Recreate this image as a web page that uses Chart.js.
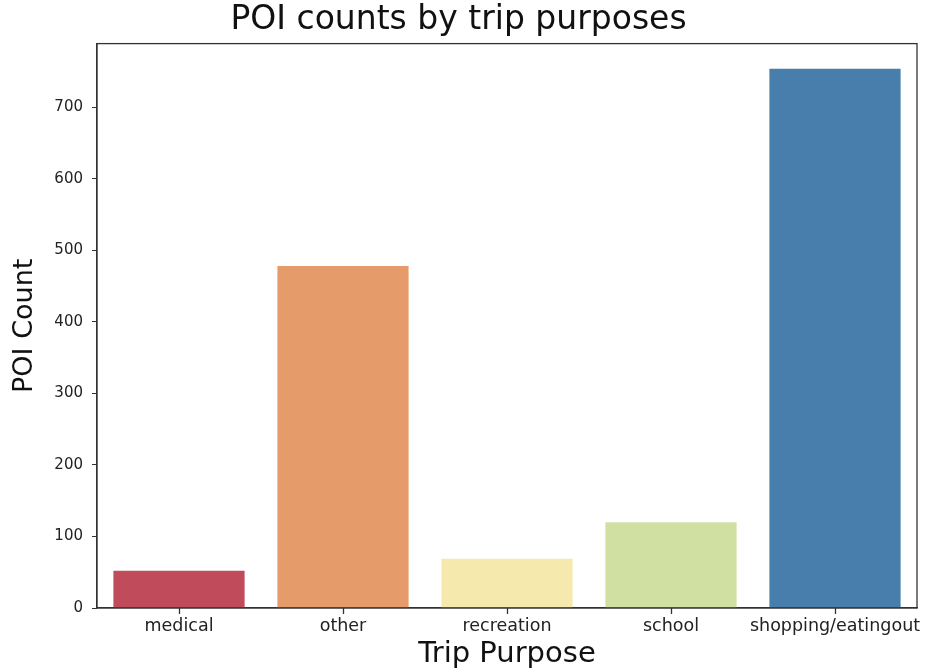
<!DOCTYPE html>
<html>
<head>
<meta charset="utf-8">
<script src="https://cdn.jsdelivr.net/npm/chart.js@4/dist/chart.umd.min.js"></script>
<style>
  html, body { margin: 0; padding: 0; background: #fff; }
  #wrap { width: 925px; height: 672px; }
</style>
</head>
<body>
<div id="wrap"><canvas id="chart" width="925" height="672"></canvas></div>
<script>
const purposes = ['medical', 'other', 'recreation', 'school', 'shopping/eatingout'];
const poiCounts = [52, 478, 69, 120, 754];
const barColors = ['#bf4b5b', '#e69b6a', '#f5e9ae', '#cfe0a2', '#477eab'];
const yTicks = [0, 100, 200, 300, 400, 500, 600, 700];

const FONT = "'DejaVu Sans', sans-serif";

// box around the plot area plus x tick marks at the category centres
const frame = {
  id: 'frame',
  afterDraw(chart) {
    const { ctx, chartArea: a } = chart;
    const x = chart.scales.x;
    ctx.save();
    ctx.strokeStyle = '#333';
    ctx.lineWidth = 1.3;
    ctx.strokeRect(a.left, a.top, a.right - a.left, a.bottom - a.top);
    ctx.beginPath();
    x.ticks.forEach((t, i) => {
      const px = Math.round(x.getPixelForTick(i)) + 0.5;
      ctx.moveTo(px, a.bottom);
      ctx.lineTo(px, a.bottom + 6);
    });
    ctx.stroke();
    ctx.restore();
  }
};

new Chart(document.getElementById('chart'), {
  type: 'bar',
  data: {
    labels: purposes,
    datasets: [{
      data: poiCounts,
      backgroundColor: barColors,
      borderWidth: 0,
      categoryPercentage: 1,
      barPercentage: 0.8
    }]
  },
  options: {
    responsive: false,
    animation: false,
    layout: { padding: { left: 0, right: 8, top: 0, bottom: 0 } },
    plugins: {
      legend: { display: false },
      tooltip: { enabled: false },
      title: {
        display: true,
        text: 'POI counts by trip purposes',
        color: '#111',
        font: { family: FONT, size: 33, weight: 'normal', lineHeight: 1.2 },
        padding: { top: 1, bottom: 3 }
      }
    },
    scales: {
      x: {
        grid: { display: true, drawOnChartArea: false, drawTicks: false, color: '#333' },
        border: { color: '#333', width: 1.2 },
        ticks: { color: '#222', font: { family: FONT, size: 17.5 }, padding: 8, maxRotation: 0, autoSkip: false },
        title: {
          display: true,
          text: 'Trip Purpose',
          color: '#111',
          font: { family: FONT, size: 29, lineHeight: 1.2 },
          padding: { top: 0, bottom: 0 }
        },
        afterFit(scale) {
          scale.height = 64;
          scale.paddingLeft = 0;
          scale.paddingRight = 0;
        }
      },
      y: {
        min: 0,
        max: 789,
        afterBuildTicks(scale) { scale.ticks = yTicks.map(v => ({ value: v })); },
        grid: { drawOnChartArea: false, drawTicks: true, tickLength: 5, color: '#333' },
        border: { color: '#333', width: 1.2 },
        ticks: { color: '#222', font: { family: FONT, size: 15 }, padding: 9 },
        title: {
          display: true,
          text: 'POI Count',
          color: '#111',
          font: { family: FONT, size: 27, lineHeight: 1.2 },
          padding: { top: 9, bottom: 0 }
        },
        afterFit(scale) { scale.width = 97; }
      }
    }
  },
  plugins: [frame]
});
</script>
</body>
</html>
